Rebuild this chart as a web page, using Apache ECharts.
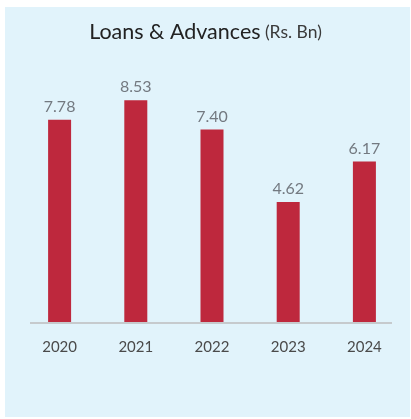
<!DOCTYPE html>
<html>
<head>
<meta charset="utf-8">
<style>
  html, body { margin: 0; padding: 0; background: #ffffff; }
  #chart { width: 411px; height: 419px; }
</style>
<script src="https://cdn.jsdelivr.net/npm/echarts@6/dist/echarts.min.js"></script>
</head>
<body>
<div id="chart"></div>
<script>
// Loans & Advances, Rs. Bn, by year
const years = ['2020', '2021', '2022', '2023', '2024'];
const loans = [7.78, 8.53, 7.40, 4.62, 6.17];

const chart = echarts.init(document.getElementById('chart'));

chart.setOption({
  backgroundColor: 'transparent',
  animation: false,
  textStyle: { fontFamily: 'Lato' },
  graphic: [
    {
      type: 'rect',
      z: -10,
      silent: true,
      shape: { x: 5, y: 7, width: 405, height: 410 },
      style: { fill: '#e1f3fb' }
    },
    {
      type: 'line',
      z: 5,
      silent: true,
      shape: { x1: 30, y1: 323, x2: 392, y2: 323 },
      style: { stroke: '#c6cacd', lineWidth: 2 }
    }
  ],
  title: {
    text: '{main|Loans & Advances} {unit|(Rs. Bn)}',
    left: 'center',
    top: 16,
    textStyle: {
      rich: {
        main: { fontFamily: 'Lato', fontSize: 21.5, color: '#222222', fontWeight: 'normal' },
        unit: { fontFamily: 'Lato', fontSize: 17.5, color: '#3a3a3a', fontWeight: 'normal' }
      }
    }
  },
  grid: { left: 21.5, right: 8.5, top: 62, bottom: 97 },
  xAxis: {
    type: 'category',
    data: years,
    axisLine: { show: false },
    axisTick: { show: false },
    axisLabel: {
      color: '#4a4a4a',
      fontFamily: 'Lato',
      fontSize: 15,
      margin: 18
    }
  },
  yAxis: {
    type: 'value',
    min: 0,
    max: 10,
    show: false,
    splitLine: { show: false }
  },
  series: [{
    type: 'bar',
    data: loans,
    barWidth: 23,
    itemStyle: { color: '#be283d' },
    label: {
      show: true,
      position: 'top',
      distance: 5,
      color: '#737980',
      fontFamily: 'Lato',
      fontSize: 16,
      fontWeight: 'normal',
      formatter: p => p.value.toFixed(2)
    }
  }]
});
</script>
</body>
</html>
